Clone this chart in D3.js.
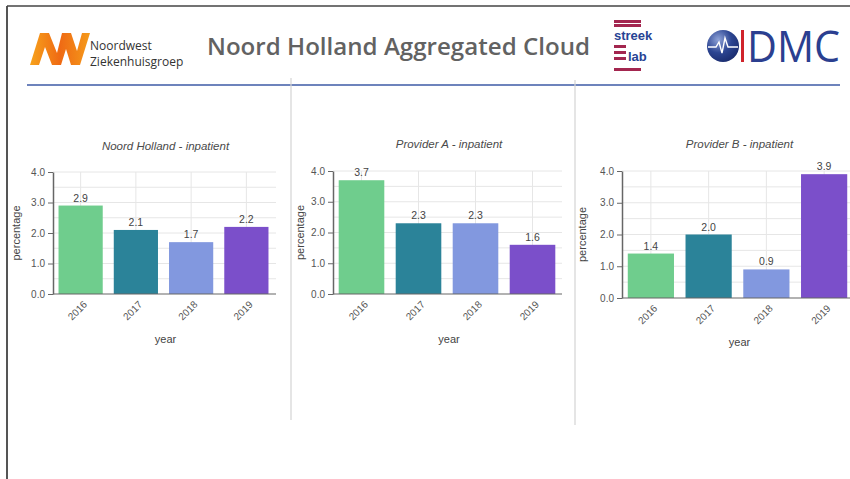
<!DOCTYPE html>
<head>
  <meta charset="utf-8">
  <script src="https://d3js.org/d3.v7.min.js"></script>
  <style>
    body { margin:0; background:#fff; }
    text { font-family: 'Liberation Sans', Arial, sans-serif; }
    .grid-line { stroke:#e6e6e6; stroke-width:1; }
    .axis path, .axis line { stroke:#666; }
    .axis text { fill:#555; font-size:10px; }
    .bar-label { fill:#444; font-size:10.5px; text-anchor:middle; }
    .panel-title { fill:#4a4a4a; font-size:11.5px; font-style:italic; text-anchor:middle; }
    .axis-label { fill:#444; font-size:11px; text-anchor:middle; }
  </style>
</head>

<body>
  <script>
    // data
    var years = ["2016", "2017", "2018", "2019"];
    var titles = ["Noord Holland - inpatient", "Provider A - inpatient", "Provider B - inpatient"];
    var noordHolland = [2.9, 2.1, 1.7, 2.2];
    var providerA = [3.7, 2.3, 2.3, 1.6];
    var providerB = [1.4, 2.0, 0.9, 3.9];
    var yearColours = ["#6fcd8d", "#2b8399", "#8298df", "#7b4fca"];
    var yTicks = [0, 1, 2, 3, 4];

    var series = [noordHolland, providerA, providerB];

    var width = 850, height = 479;

    var svg = d3.select("body").append("svg")
        .attr("width", width)
        .attr("height", height);

    // slide frame
    svg.append("line").attr("x1", 7).attr("x2", 7).attr("y1", 6).attr("y2", height)
      .style("stroke", "#555").style("stroke-width", 2);
    svg.append("line").attr("x1", 7).attr("x2", width).attr("y1", 6).attr("y2", 6)
      .style("stroke", "#444").style("stroke-width", 1.5);

    // header
    var defs = svg.append("defs");
    var og = defs.append("linearGradient").attr("id", "nwGrad")
      .attr("x1", "0").attr("x2", "1").attr("y1", "0").attr("y2", "0");
    og.append("stop").attr("offset", "0").attr("stop-color", "#f7a21b");
    og.append("stop").attr("offset", "0.5").attr("stop-color", "#ef6a14");
    og.append("stop").attr("offset", "1").attr("stop-color", "#f59a1a");

    var nw = svg.append("g").attr("transform", "translate(30,33)");
    nw.append("path")
      .attr("d", "M0,32 L10,0 L19,0 L27,20 L32,0 L41,0 L47,18 L52,0 L60,0 L50,32 L41,32 L36,16 L31,32 L22,32 L15,14 L9,32 Z")
      .style("fill", "url(#nwGrad)");
    svg.append("text").attr("x", 90).attr("y", 50).text("Noordwest")
      .style("font-size", "12px").style("fill", "#333").style("font-family", "'Open Sans', sans-serif");
    svg.append("text").attr("x", 90).attr("y", 66).text("Ziekenhuisgroep")
      .style("font-size", "12px").style("fill", "#333").style("font-family", "'Open Sans', sans-serif");

    svg.append("text").attr("x", 207).attr("y", 55)
      .attr("textLength", 383).attr("lengthAdjust", "spacingAndGlyphs")
      .text("Noord Holland Aggregated Cloud")
      .style("font-size", "24px").style("font-weight", 600).style("fill", "#626262")
      .style("font-family", "'Open Sans', sans-serif");

    // streek lab logo
    var sl = svg.append("g").attr("transform", "translate(613,20)");
    [[0, 27], [4, 27], [25, 12], [31, 12], [37, 12], [48, 27]].forEach(function(b) {
      sl.append("rect").attr("x", 1).attr("y", b[0]).attr("width", b[1]).attr("height", 3)
        .style("fill", "#a3264f");
    });
    sl.append("text").attr("x", 1).attr("y", 20).text("streek")
      .style("font-size", "13px").style("font-weight", 700).style("fill", "#274394");
    sl.append("text").attr("x", 15).attr("y", 41).text("lab")
      .style("font-size", "13px").style("font-weight", 700).style("fill", "#274394");

    // IDMC logo
    var rg = defs.append("radialGradient").attr("id", "idmcGrad")
      .attr("cx", "0.35").attr("cy", "0.3").attr("r", "0.75");
    rg.append("stop").attr("offset", "0").attr("stop-color", "#8fa3d8");
    rg.append("stop").attr("offset", "0.55").attr("stop-color", "#2c4592");
    rg.append("stop").attr("offset", "1").attr("stop-color", "#1a2c6e");
    svg.append("circle").attr("cx", 723).attr("cy", 46).attr("r", 16).style("fill", "url(#idmcGrad)");
    svg.append("path").attr("d", "M708,47 L716,47 L719,42 L722,53 L725,38 L728,47 L738,47")
      .style("fill", "none").style("stroke", "#fff").style("stroke-width", 1.4);
    svg.append("rect").attr("x", 741).attr("y", 30).attr("width", 3).attr("height", 32).style("fill", "#d0232b");
    svg.append("text").attr("x", 747).attr("y", 62)
      .attr("textLength", 93).attr("lengthAdjust", "spacingAndGlyphs")
      .text("DMC").style("font-size", "44px").style("fill", "#2b3f90")
      .style("font-family", "'Open Sans', sans-serif");

    // header rule
    svg.append("line").attr("x1", 27).attr("x2", 840).attr("y1", 85).attr("y2", 85)
      .style("stroke", "#3c5aa6").style("stroke-width", 1.6);

    // panel dividers
    [[291, 78, 420], [575, 80, 425]].forEach(function(d) {
      svg.append("line").attr("x1", d[0]).attr("x2", d[0]).attr("y1", d[1]).attr("y2", d[2])
        .style("stroke", "#d4d4d4").style("stroke-width", 1.2);
    });

    // panel layout
    var panels = [
      {left: 53, right: 274, gridRight: 276, y0: 294, y4: 172, titleY: 150, yearY: 343, pctX: 20},
      {left: 333, right: 561, gridRight: 562, y0: 294, y4: 171, titleY: 148, yearY: 343, pctX: 304},
      {left: 622, right: 853, gridRight: 850, y0: 298, y4: 171, titleY: 148, yearY: 346, pctX: 586}
    ];

    panels.forEach(function(p, i) {
      var values = series[i];
      var g = svg.append("g");

      var x = d3.scaleBand()
        .domain(years)
        .range([p.left, p.right])
        .paddingInner(0.2)
        .paddingOuter(0.1);

      var y = d3.scaleLinear()
        .domain([0, 4])
        .range([p.y0, p.y4]);

      // grid
      g.append("g").selectAll("line")
        .data(d3.range(0.5, 4.01, 0.5))
        .enter().append("line")
          .attr("class", "grid-line")
          .attr("x1", p.left).attr("x2", p.gridRight)
          .attr("y1", d => y(d)).attr("y2", d => y(d));

      g.append("g").selectAll("line")
        .data(years)
        .enter().append("line")
          .attr("class", "grid-line")
          .attr("x1", d => x(d) + x.bandwidth() / 2)
          .attr("x2", d => x(d) + x.bandwidth() / 2)
          .attr("y1", p.y4).attr("y2", p.y0);

      // bars
      g.append("g").selectAll("rect")
        .data(values)
        .enter().append("rect")
          .attr("x", (d, j) => x(years[j]))
          .attr("y", d => y(d))
          .attr("width", x.bandwidth())
          .attr("height", d => p.y0 - y(d))
          .style("fill", (d, j) => yearColours[j]);

      g.append("g").selectAll("text")
        .data(values)
        .enter().append("text")
          .attr("class", "bar-label")
          .attr("x", (d, j) => x(years[j]) + x.bandwidth() / 2)
          .attr("y", d => y(d) - 4)
          .text(d => d3.format(".1f")(d));

      // axes
      var yAxis = d3.axisLeft(y)
        .tickValues(yTicks)
        .tickFormat(d3.format(".1f"))
        .tickSize(5)
        .tickSizeOuter(0);
      var yG = g.append("g")
        .attr("class", "axis")
        .attr("transform", "translate(" + p.left + ",0)")
        .call(yAxis);
      yG.select(".domain").style("stroke-width", 1.5);

      var xAxis = d3.axisBottom(x)
        .tickSize(0)
        .tickSizeOuter(0);
      var xG = g.append("g")
        .attr("class", "axis")
        .attr("transform", "translate(0," + p.y0 + ")")
        .call(xAxis);
      xG.select(".domain").attr("d", "M" + p.left + ",0H" + p.gridRight).style("stroke-width", 1.2);
      xG.selectAll("text")
        .attr("text-anchor", "end")
        .attr("dy", 0)
        .attr("transform", "translate(5,9) rotate(-45)");

      // labels
      g.append("text").attr("class", "panel-title")
        .attr("x", (p.left + p.right) / 2 + 2).attr("y", p.titleY)
        .text(titles[i]);
      g.append("text").attr("class", "axis-label")
        .attr("x", (p.left + p.right) / 2 + 2).attr("y", p.yearY)
        .text("year");
      g.append("text").attr("class", "axis-label")
        .attr("transform", "translate(" + p.pctX + "," + ((p.y0 + p.y4) / 2) + ") rotate(-90)")
        .text("percentage");
    });
  </script>
</body>
